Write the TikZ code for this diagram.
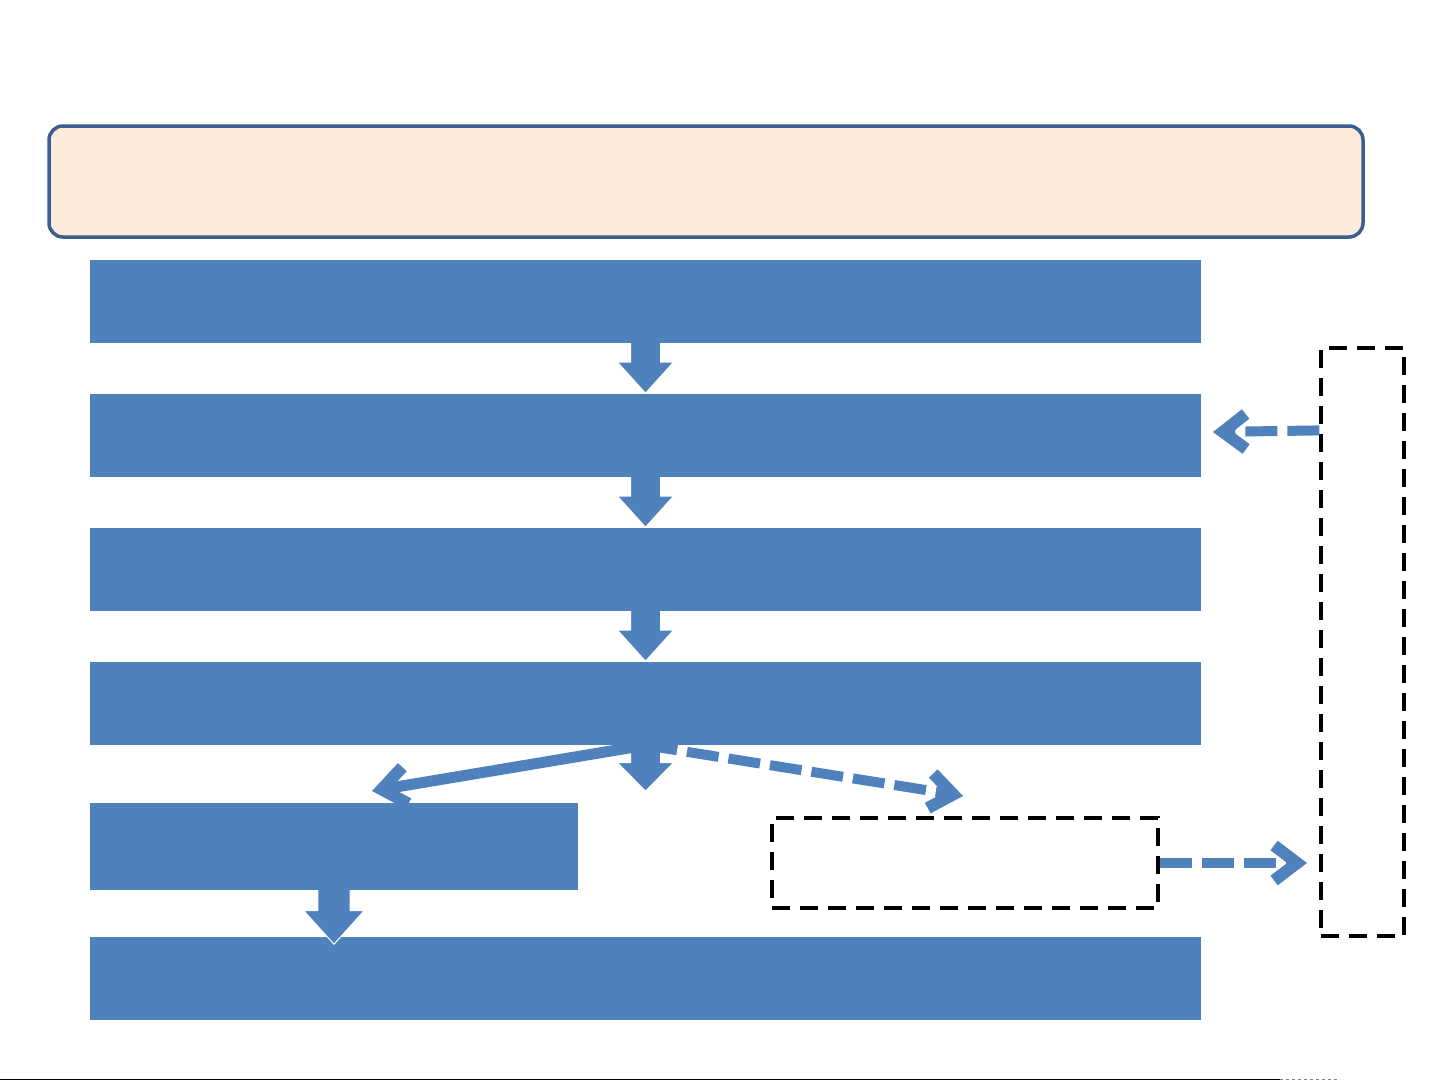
\documentclass[tikz,border=0pt]{standalone}
\usetikzlibrary{arrows.meta,calc}
\definecolor{boxblue}{HTML}{4F81BD}
\definecolor{edgeblue}{HTML}{3A5F8E}
\definecolor{peach}{HTML}{FCEADB}
\begin{document}
\begin{tikzpicture}[x=1pt,y=-1pt,
  bar/.style={rectangle, fill=boxblue, draw=none, inner sep=0pt, minimum height=83pt},
  frame/.style={rectangle, draw=black, line width=3.2pt, dash pattern=on 18pt off 10pt, inner sep=0pt},
  solidarrow/.style={draw=boxblue, line width=11pt, -{Straight Barb[length=24pt,width=37pt,line width=12pt]}},
  dasharrow/.style={draw=boxblue, line width=10pt, dash pattern=on 32pt off 10pt, -{Straight Barb[length=23pt,width=35pt,line width=12pt]}},
  blockdown/.pic={
    \fill[boxblue] (-15,-1) -- (15,-1) -- (15,19) -- (28,19) -- (0,50) -- (-28,19) -- (-15,19) -- cycle;
    \draw[white, line width=1pt, line join=miter] (15,0) -- (15,19) -- (28,19) -- (0,50) -- (-28,19) -- (-15,19) -- (-15,0);
  }]
\useasboundingbox (0,0) rectangle (1441,1081);

% header box
\node[rectangle, rounded corners=14pt, fill=peach, draw=edgeblue, line width=3.5pt,
      minimum width=1314pt, minimum height=111pt, inner sep=0pt] (head) at (706,181.5) {};

% blue bars
\node[bar, minimum width=1111pt] (b1) at (645.5,301.5) {};
\node[bar, minimum width=1111pt] (b2) at (645.5,435.5) {};
\node[bar, minimum width=1111pt] (b3) at (645.5,569.5) {};
\node[bar, minimum width=1111pt] (b4) at (645.5,703.5) {};
\node[bar, minimum width=488pt, minimum height=87pt] (b5) at (334,846.5) {};
\node[bar, minimum width=1111pt] (b6) at (645.5,978.5) {};

% dashed frames
\node[frame, minimum width=83pt, minimum height=588pt] (side) at (1362.5,642) {};
\node[frame, minimum width=386pt, minimum height=90pt] (mid) at (965,863) {};

% block arrows
\pic at (b1.south) {blockdown};
\pic at (b2.south) {blockdown};
\pic at (b3.south) {blockdown};
\pic[yscale=0.92] at (b4.south) {blockdown};
\pic[scale=1.08] at (b5.south) {blockdown};

% connectors
\coordinate (solidend) at (372,791);
\coordinate (dashend) at (963,796);
\coordinate (sidestart) at ($(side.north west)+(0,84)$);
\coordinate (leftend) at (1213,432);
\coordinate (rightend) at (1307,863);

\draw[solidarrow] (b4.south) -- (solidend);
\draw[dasharrow] (b4.south) -- (dashend);
\draw[dasharrow] (sidestart) -- (leftend);
\draw[dasharrow] (mid.east) -- (rightend);

% bottom rule
\coordinate (ruleL) at (0,1079.5);
\coordinate (ruleR) at (1280,1079.5);
\coordinate (ruleE) at (1340,1079.5);
\draw[black, line width=1.5pt] (ruleL) -- (ruleR);
\draw[gray, line width=1.5pt, dash pattern=on 3pt off 3pt] (ruleR) -- (ruleE);
\end{tikzpicture}
\end{document}
